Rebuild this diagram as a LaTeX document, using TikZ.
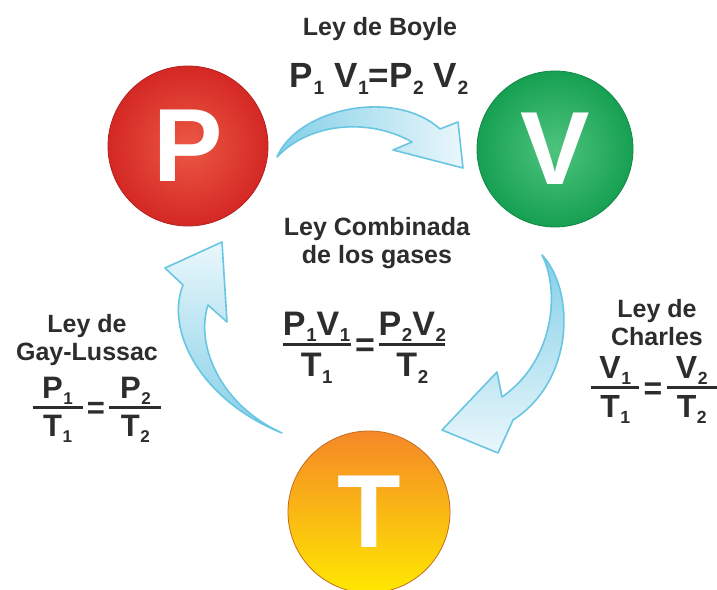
\documentclass[tikz,border=0pt]{standalone}
\usepackage{amsmath}
\usepackage{graphicx}
\usepackage{fontspec}
\setmainfont{Liberation Sans}
\usepackage{tikz}
\definecolor{inkgray}{RGB}{45,45,45}
\definecolor{pinner}{RGB}{236,88,68}
\definecolor{pouter}{RGB}{212,40,36}
\definecolor{vinner}{RGB}{78,196,126}
\definecolor{vouter}{RGB}{22,160,82}
\definecolor{ttop}{RGB}{245,136,40}
\definecolor{tbottom}{RGB}{255,232,0}
\definecolor{flowdark}{RGB}{132,207,232}
\definecolor{flowlight}{RGB}{234,247,251}
\definecolor{flowline}{RGB}{104,198,226}
\newcommand{\low}[1]{\kern.3pt\smash{\raisebox{-.2em}{\scalebox{.55}{#1}}}}
\newcommand{\fr}[3]{\genfrac{}{}{1.4pt}{1}{\makebox[#1]{\rule[-.16em]{0pt}{0pt}#2}}{\makebox[#1]{\rule{0pt}{.8em}#3}}}
\newcommand{\eqs}{\mbox{\kern1pt\raisebox{-.1em}{=}\kern1pt}}

\begin{document}
\begin{tikzpicture}[x=0.5pt,y=-0.5pt,
  gasball/.style={circle,minimum size=#1,inner sep=0pt,text=white,
    font=\fontsize{52}{52}\selectfont\bfseries},
  lawname/.style={font=\fontsize{12.5}{14}\selectfont\bfseries,
    text=inkgray,align=center,inner sep=0pt},
  formula/.style={font=\fontsize{#1}{#1}\selectfont\bfseries,
    text=inkgray,inner sep=0pt},
  flow/.style={draw=flowline,line width=0.8pt,line join=round}]
\fill[white] (0,0) rectangle (717,589);
\useasboundingbox (0,0) rectangle (717,589);

\draw[flow,left color=flowdark,right color=flowlight]
  (277,157) .. controls (298,108) and (395,88) .. (440,129)
  -- (458,122) -- (463,168) -- (393,150) -- (412,142)
  .. controls (370,118) and (310,122) .. (277,157) -- cycle;
\draw[flow,top color=flowdark,bottom color=flowlight]
  (542,255) .. controls (575,290) and (575,380) .. (513,420)
  -- (498,453) -- (442,430) -- (497,372) -- (502,397)
  .. controls (555,360) and (560,290) .. (542,255) -- cycle;
\draw[flow,bottom color=flowdark,top color=flowlight]
  (282,433) .. controls (200,400) and (165,330) .. (183,285)
  -- (165,268) -- (222,242) -- (227,322) -- (208,305)
  .. controls (195,345) and (220,405) .. (282,433) -- cycle;

\node[gasball=80pt,inner color=pinner,outer color=pouter,
  draw=pouter!85!black,line width=0.4pt] (P) at (188,146) {P};
\node[gasball=78pt,inner color=vinner,outer color=vouter,
  draw=vouter!85!black,line width=0.4pt] (V) at (555,149) {V};
\node[gasball=81pt,top color=ttop,bottom color=tbottom,
  draw=ttop!80!black,line width=0.4pt] (T) at (369,512) {T};

\node[lawname,anchor=base] (boyle) at (380,35) {Ley de Boyle};
\node[formula=17.5,anchor=base] (boylelaw) at (379,87)
  {P\low1 V\low1=P\low2 V\low2};
\node[lawname] (comb) at (377,243) {Ley Combinada\\de los gases};
\node[formula=17] (comblaw) at (364,344)
  {$\fr{34pt}{P\low1V\low1}{T\low1}\eqs\fr{33pt}{P\low2V\low2}{T\low2}$};
\node[lawname] (gay) at (87,340) {Ley de\\Gay-Lussac};
\node[formula=15.5] (gaylaw) at (97,407)
  {$\fr{25pt}{P\low1}{T\low1}\eqs\fr{26pt}{P\low2}{T\low2}$};
\node[lawname] (charles) at (657,323) {Ley de\\Charles};
\node[formula=16] (charleslaw) at (654,387)
  {$\fr{24pt}{V\low1}{T\low1}\eqs\fr{25pt}{V\low2}{T\low2}$};
\end{tikzpicture}
\end{document}
